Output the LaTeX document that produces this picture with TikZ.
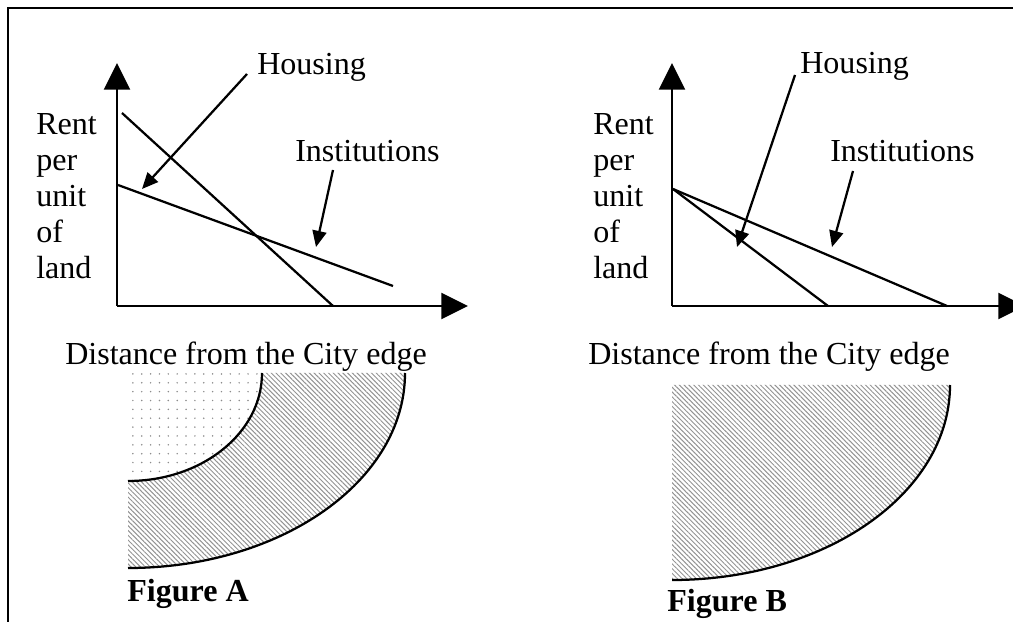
\documentclass[tikz,border=0pt]{standalone}
\usepackage{fontspec}
\setmainfont{Liberation Serif}
\usetikzlibrary{arrows.meta, patterns.meta}

\tikzset{
  axis/.style={line width=1.6pt, -{Triangle[length=19pt, width=18.5pt]}},
  curve/.style={line width=1.6pt},
  pointer/.style={line width=1.6pt, -{Triangle[length=11.5pt, width=10pt]}},
  lbl/.style={inner sep=0pt, font=\fontsize{22.8}{25.6}\selectfont},
  figlbl/.style={inner sep=0pt, font=\fontsize{22.8}{25.6}\selectfont\bfseries},
  hatch/.style={pattern={Lines[angle=-45, distance=2.4pt, line width=0.7pt]}, pattern color=gray!85},
  dotfill/.style={pattern={Dots[distance=6.3pt, radius=0.6pt]}, pattern color=gray!90}
}

\begin{document}
\begin{tikzpicture}[x=0.025cm, y=-0.025cm]
        \useasboundingbox (0,0) rectangle (1013,622);
        \clip (0,0) rectangle (1013,622);

        % frame
        \draw[line width=1.6pt] (8,8) rectangle (1040,650);

        % Figure A: graph
        \coordinate (oA) at (117,306);
        \coordinate (yA) at (117,63);
        \coordinate (xA) at (468,306);
        \draw[axis] (oA) -- (yA);
        \draw[axis] (oA) -- (xA);
        \coordinate (hA1) at (122,113);
        \coordinate (hA2) at (333,306);
        \coordinate (iA1) at (118,185);
        \coordinate (iA2) at (393,286);
        \draw[curve] (hA1) -- (hA2);
        \draw[curve] (iA1) -- (iA2);

        \node[lbl, anchor=base west] (hsgA) at (257,75) {Housing};
        \node[lbl, anchor=base west] (instA) at (295,162) {Institutions};
        \node[lbl, anchor=north west, align=left] (rentA) at (36,113) {Rent\\per\\unit\\of\\land};
        \node[lbl, anchor=base west] (distA) at (65,365) {Distance from the City edge};

        \coordinate (phA) at (247,74);
        \coordinate (thA) at (142,189);
        \coordinate (piA) at (333,170);
        \coordinate (tiA) at (316,247);
        \draw[pointer] (phA) -- (thA);
        \draw[pointer] (piA) -- (tiA);

        % Figure B: graph
        \coordinate (oB) at (672,306);
        \coordinate (yB) at (672,63);
        \coordinate (xB) at (1025,306);
        \draw[axis] (oB) -- (yB);
        \draw[axis] (oB) -- (xB);
        \coordinate (sB) at (673,189);
        \coordinate (hB2) at (828,306);
        \coordinate (iB2) at (947,306);
        \draw[curve] (sB) -- (hB2);
        \draw[curve] (sB) -- (iB2);

        \node[lbl, anchor=base west] (hsgB) at (800,74) {Housing};
        \node[lbl, anchor=base west] (instB) at (830,162) {Institutions};
        \node[lbl, anchor=north west, align=left] (rentB) at (593,113) {Rent\\per\\unit\\of\\land};
        \node[lbl, anchor=base west] (distB) at (588,365) {Distance from the City edge};

        \coordinate (phB) at (795,75);
        \coordinate (thB) at (737,247);
        \coordinate (piB) at (853,171);
        \coordinate (tiB) at (832,247);
        \draw[pointer] (phB) -- (thB);
        \draw[pointer] (piB) -- (tiB);

        % Figure A: land use
        \fill[dotfill] (128,373) -- (262,373) .. controls (262,433) and (202,481) .. (128,481) -- cycle;
        \fill[hatch] (262,373) -- (405,373) .. controls (405,481) and (281,568) .. (128,568)
            -- (128,481) .. controls (202,481) and (262,433) .. (262,373) -- cycle;
        \draw[curve] (262,373) .. controls (262,433) and (202,481) .. (128,481);
        \draw[curve] (405,373) .. controls (405,481) and (281,568) .. (128,568);
        \node[figlbl, anchor=base west] (figA) at (127,601) {Figure A};

        % Figure B: land use
        \fill[hatch] (672,385) -- (950,385) .. controls (950,493) and (826,580) .. (672,580) -- cycle;
        \draw[curve] (950,385) .. controls (950,493) and (826,580) .. (672,580);
        \node[figlbl, anchor=base west] (figB) at (667,611) {Figure B};
    \end{tikzpicture}
\end{document}
